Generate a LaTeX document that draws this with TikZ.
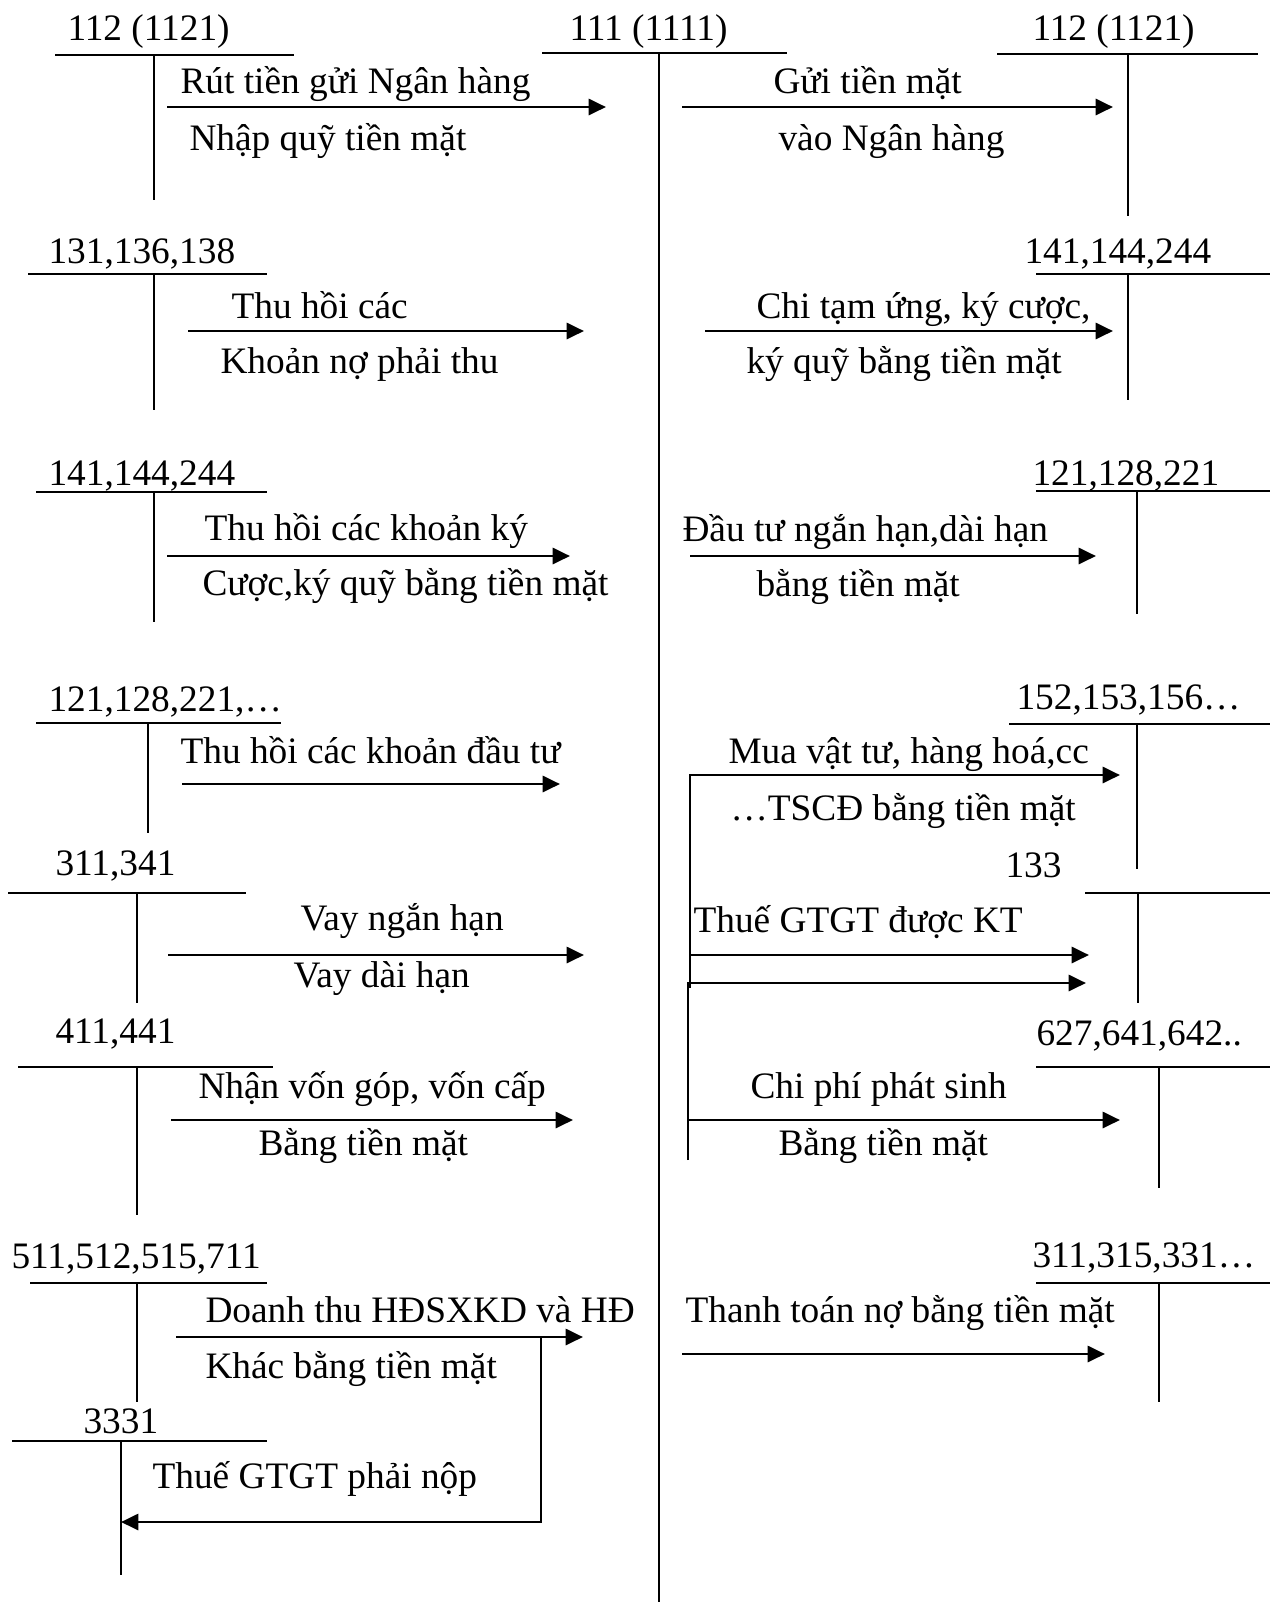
\documentclass[tikz,border=0pt]{standalone}
\usepackage{fontspec}
\setmainfont{Liberation Serif}
\usetikzlibrary{arrows.meta}

\tikzset{
  tline/.style={line width=0.8pt},
  flow/.style={line width=1.1pt, -{Triangle[length=6.5pt,width=6pt]}},
  acct/.style={anchor=base west, inner sep=0pt, font=\fontsize{14pt}{16pt}\selectfont},
  note/.style={acct},
}

\begin{document}
\begin{tikzpicture}[x=0.375pt, y=-0.375pt]
  \useasboundingbox (0,0) rectangle (1270,1602);

  % cash account
  \node[acct] (tm) at (569,40) {111 (1111)};
  \coordinate (tml) at (542,53); \coordinate (tmr) at (787,53);
  \coordinate (tmt) at (659,53); \coordinate (tmb) at (659,1602);
  \draw[tline] (tml) -- (tmr); \draw[tline] (tmt) -- (tmb);

  % accounts on the left
  \node[acct] (ta) at (67,40) {112 (1121)};
  \coordinate (tal) at (55,55); \coordinate (tar) at (294,55);
  \coordinate (tat) at (154,55); \coordinate (tab) at (154,200);
  \draw[tline] (tal) -- (tar); \draw[tline] (tat) -- (tab);

  \node[acct] (tb) at (48,263) {131,136,138};
  \coordinate (tbl) at (28,274); \coordinate (tbr) at (267,274);
  \coordinate (tbt) at (154,274); \coordinate (tbb) at (154,410);
  \draw[tline] (tbl) -- (tbr); \draw[tline] (tbt) -- (tbb);

  \node[acct] (tc) at (48,485) {141,144,244};
  \coordinate (tcl) at (36,492); \coordinate (tcr) at (267,492);
  \coordinate (tct) at (154,492); \coordinate (tcb) at (154,622);
  \draw[tline] (tcl) -- (tcr); \draw[tline] (tct) -- (tcb);

  \node[acct] (td) at (48,711) {121,128,221,…};
  \coordinate (tdl) at (36,723); \coordinate (tdr) at (281,723);
  \coordinate (tdt) at (148,723); \coordinate (tdb) at (148,833);
  \draw[tline] (tdl) -- (tdr); \draw[tline] (tdt) -- (tdb);

  \node[acct] (te) at (55,875) {311,341};
  \coordinate (tel) at (8,893); \coordinate (ter) at (246,893);
  \coordinate (tet) at (137,893); \coordinate (teb) at (137,1003);
  \draw[tline] (tel) -- (ter); \draw[tline] (tet) -- (teb);

  \node[acct] (tf) at (55,1043) {411,441};
  \coordinate (tfl) at (18,1067); \coordinate (tfr) at (273,1067);
  \coordinate (tft) at (137,1067); \coordinate (tfb) at (137,1215);
  \draw[tline] (tfl) -- (tfr); \draw[tline] (tft) -- (tfb);

  \node[acct] (tg) at (11,1268) {511,512,515,711};
  \coordinate (tgl) at (30,1283); \coordinate (tgr) at (267,1283);
  \coordinate (tgt) at (137,1283); \coordinate (tgb) at (137,1402);
  \draw[tline] (tgl) -- (tgr); \draw[tline] (tgt) -- (tgb);

  \node[acct] (th) at (83,1433) {3331};
  \coordinate (thl) at (12,1441); \coordinate (thr) at (267,1441);
  \coordinate (tht) at (121,1441); \coordinate (thb) at (121,1575);
  \draw[tline] (thl) -- (thr); \draw[tline] (tht) -- (thb);

  % accounts on the right
  \node[acct] (ua) at (1032,40) {112 (1121)};
  \coordinate (ual) at (997,54); \coordinate (uar) at (1258,54);
  \coordinate (uat) at (1128,54); \coordinate (uab) at (1128,216);
  \draw[tline] (ual) -- (uar); \draw[tline] (uat) -- (uab);

  \node[acct] (ub) at (1024,263) {141,144,244};
  \coordinate (ubl) at (1036,274); \coordinate (ubr) at (1270,274);
  \coordinate (ubt) at (1128,274); \coordinate (ubb) at (1128,400);
  \draw[tline] (ubl) -- (ubr); \draw[tline] (ubt) -- (ubb);

  \node[acct] (uc) at (1032,485) {121,128,221};
  \coordinate (ucl) at (1036,491); \coordinate (ucr) at (1270,491);
  \coordinate (uct) at (1137,491); \coordinate (ucb) at (1137,614);
  \draw[tline] (ucl) -- (ucr); \draw[tline] (uct) -- (ucb);

  \node[acct] (ud) at (1016,709) {152,153,156…};
  \coordinate (udl) at (1009,724); \coordinate (udr) at (1270,724);
  \coordinate (udt) at (1137,724); \coordinate (udb) at (1137,869);
  \draw[tline] (udl) -- (udr); \draw[tline] (udt) -- (udb);

  \node[acct] (ue) at (1005,877) {133};
  \coordinate (uel) at (1085,893); \coordinate (uer) at (1270,893);
  \coordinate (uet) at (1138,893); \coordinate (ueb) at (1138,1003);
  \draw[tline] (uel) -- (uer); \draw[tline] (uet) -- (ueb);

  \node[acct] (uf) at (1036,1045) {627,641,642..};
  \coordinate (ufl) at (1036,1067); \coordinate (ufr) at (1270,1067);
  \coordinate (uft) at (1159,1067); \coordinate (ufb) at (1159,1188);
  \draw[tline] (ufl) -- (ufr); \draw[tline] (uft) -- (ufb);

  \node[acct] (ug) at (1032,1267) {311,315,331…};
  \coordinate (ugl) at (1036,1283); \coordinate (ugr) at (1270,1283);
  \coordinate (ugt) at (1159,1283); \coordinate (ugb) at (1159,1402);
  \draw[tline] (ugl) -- (ugr); \draw[tline] (ugt) -- (ugb);

  % receipts into cash
  \coordinate (fa1) at (167,107); \coordinate (fa2) at (606,107);
  \draw[flow] (fa1) -- (fa2);
  \node[note] (na1) at (180,93) {Rút tiền gửi Ngân hàng};
  \node[note] (na2) at (189,150) {Nhập quỹ tiền mặt};

  \coordinate (fb1) at (188,331); \coordinate (fb2) at (584,331);
  \draw[flow] (fb1) -- (fb2);
  \node[note] (nb1) at (231,318) {Thu hồi các};
  \node[note] (nb2) at (220,373) {Khoản nợ phải thu};

  \coordinate (fc1) at (167,556); \coordinate (fc2) at (570,556);
  \draw[flow] (fc1) -- (fc2);
  \node[note] (nc1) at (204,540) {Thu hồi các khoản ký};
  \node[note] (nc2) at (202,595) {Cược,ký quỹ bằng tiền mặt};

  \coordinate (fd1) at (182,784); \coordinate (fd2) at (560,784);
  \draw[flow] (fd1) -- (fd2);
  \node[note] (nd1) at (180,763) {Thu hồi các khoản đầu tư};

  \coordinate (fe1) at (168,955); \coordinate (fe2) at (584,955);
  \draw[flow] (fe1) -- (fe2);
  \node[note] (ne1) at (300,930) {Vay ngắn hạn};
  \node[note] (ne2) at (293,987) {Vay dài hạn};

  \coordinate (ff1) at (171,1120); \coordinate (ff2) at (573,1120);
  \draw[flow] (ff1) -- (ff2);
  \node[note] (nf1) at (198,1098) {Nhận vốn góp, vốn cấp};
  \node[note] (nf2) at (258,1155) {Bằng tiền mặt};

  \coordinate (fg1) at (176,1337); \coordinate (fg2) at (583,1337);
  \draw[flow] (fg1) -- (fg2);
  \node[note] (ng1) at (205,1322) {Doanh thu HĐSXKD và HĐ};
  \node[note] (ng2) at (205,1378) {Khác bằng tiền mặt};

  \coordinate (fh1) at (541,1337); \coordinate (fh2) at (121,1522);
  \draw[flow] (fh1) |- (fh2);
  \node[note] (nh1) at (152,1488) {Thuế GTGT phải nộp};

  % payments out of cash
  \coordinate (ga1) at (682,107); \coordinate (ga2) at (1113,107);
  \draw[flow] (ga1) -- (ga2);
  \node[note] (ma1) at (773,93) {Gửi tiền mặt};
  \node[note] (ma2) at (778,150) {vào Ngân hàng};

  \coordinate (gb1) at (705,331); \coordinate (gb2) at (1113,331);
  \draw[flow] (gb1) -- (gb2);
  \node[note] (mb1) at (756,318) {Chi tạm ứng, ký cược,};
  \node[note] (mb2) at (746,373) {ký quỹ bằng tiền mặt};

  \coordinate (gc1) at (690,556); \coordinate (gc2) at (1096,556);
  \draw[flow] (gc1) -- (gc2);
  \node[note] (mc1) at (682,541) {Đầu tư ngắn hạn,dài hạn};
  \node[note] (mc2) at (756,596) {bằng tiền mặt};

  \coordinate (gd1) at (690,988); \coordinate (gd2) at (1120,775);
  \draw[flow] (gd1) |- (gd2);
  \node[note] (md1) at (728,763) {Mua vật tư, hàng hoá,cc};
  \node[note] (md2) at (730,820) {…TSCĐ bằng tiền mặt};

  \coordinate (ge1) at (690,955); \coordinate (ge2) at (1089,955);
  \draw[flow] (ge1) -- (ge2);
  \node[note] (me1) at (693,932) {Thuế GTGT được KT};

  \coordinate (gf1) at (688,1160); \coordinate (gf2) at (1086,983);
  \draw[flow] (gf1) |- (gf2);

  \coordinate (gg1) at (688,1120); \coordinate (gg2) at (1120,1120);
  \draw[flow] (gg1) -- (gg2);
  \node[note] (mg1) at (750,1098) {Chi phí phát sinh};
  \node[note] (mg2) at (778,1155) {Bằng tiền mặt};

  \coordinate (gh1) at (682,1354); \coordinate (gh2) at (1105,1354);
  \draw[flow] (gh1) -- (gh2);
  \node[note] (mh1) at (685,1322) {Thanh toán nợ bằng tiền mặt};
\end{tikzpicture}
\end{document}
